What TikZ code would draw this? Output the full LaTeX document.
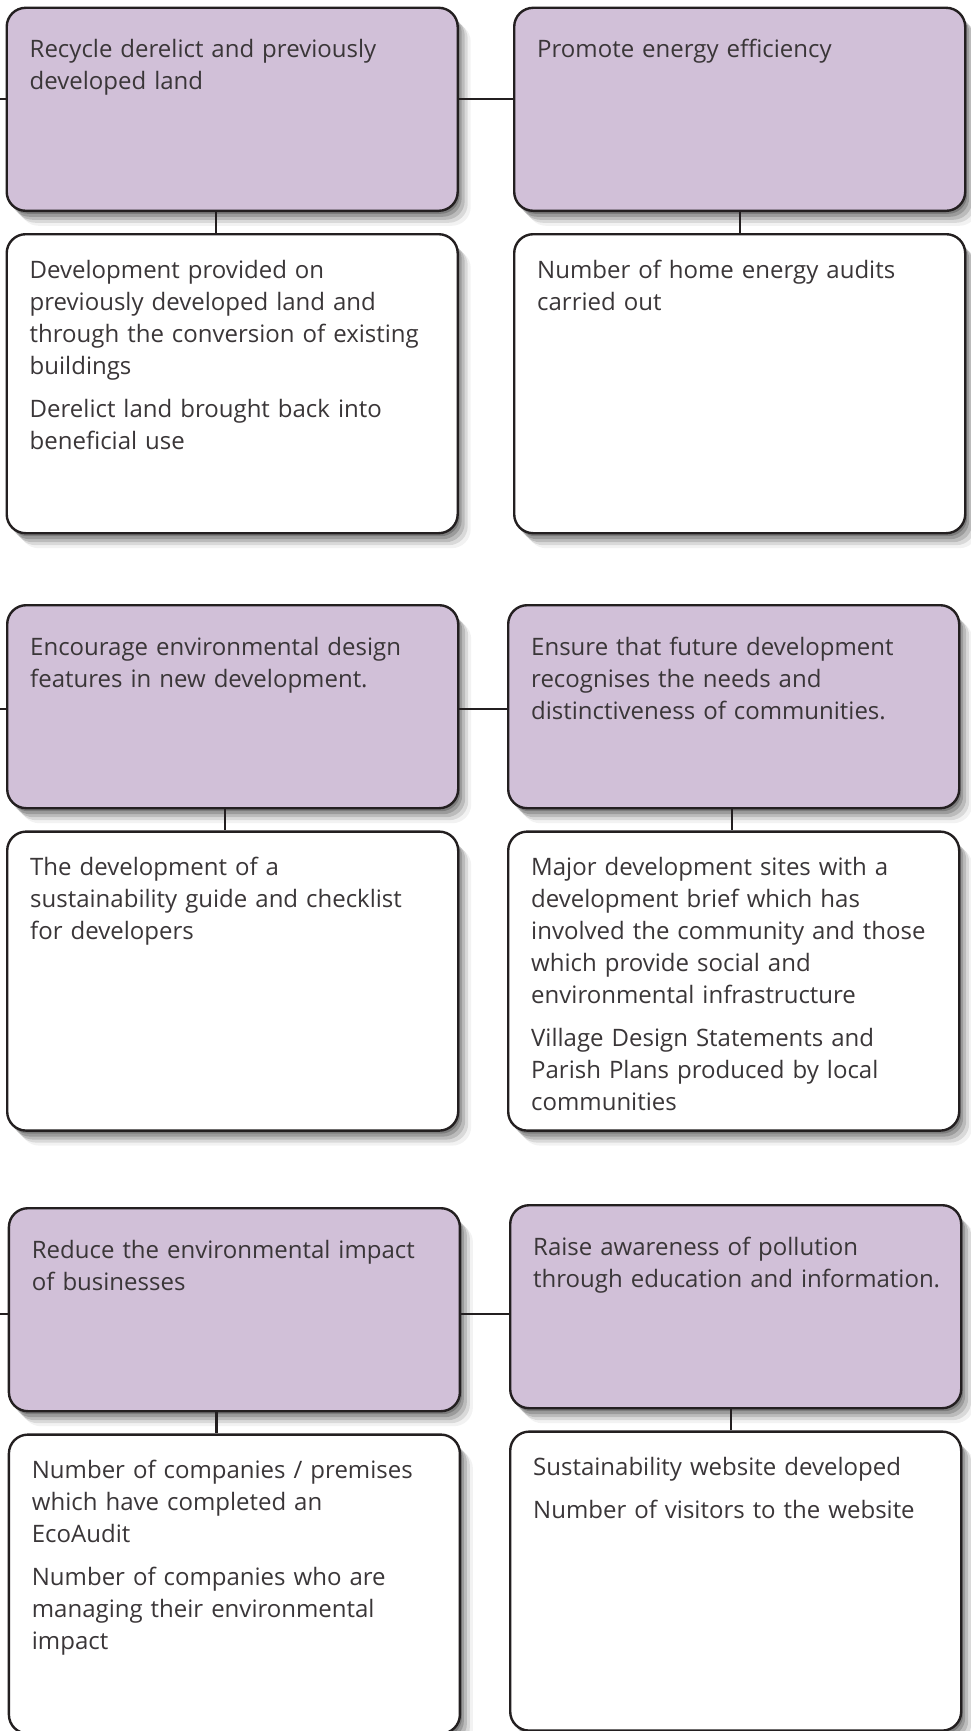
\documentclass[tikz,border=0pt]{standalone}
\usepackage{fontspec}
\setmainfont{Open Sans}
\usepackage{tikz}
\usetikzlibrary{positioning}
\usetikzlibrary{shadows}

\definecolor{lilac}{RGB}{209,192,216}
\definecolor{edge}{RGB}{35,31,32}
\definecolor{ink}{RGB}{58,54,56}

\begin{document}
\begin{tikzpicture}
 [ x=1pt
 , y=-1pt
 , node distance=21pt
 , panel/.style={draw=edge, line width=2.4pt, rounded corners=19pt, minimum width=451pt, inner sep=0pt, anchor=north west,
     drop shadow={shadow xshift=2pt, shadow yshift=-3pt, opacity=.2, fill=black},
     drop shadow={shadow xshift=4pt, shadow yshift=-6pt, opacity=.17, fill=black},
     drop shadow={shadow xshift=7pt, shadow yshift=-9pt, opacity=.14, fill=black},
     drop shadow={shadow xshift=10pt, shadow yshift=-12pt, opacity=.1, fill=black},
     drop shadow={shadow xshift=13pt, shadow yshift=-15pt, opacity=.05, fill=black}}
 , objective/.style={panel, fill=lilac, minimum height=203pt}
 , indicator/.style={panel, fill=white, minimum height=299pt}
 , caption/.style={anchor=base west, inner sep=0pt, text width=440pt, align=left, text=ink,
     font=\fontsize{24}{32}\selectfont}
 , aimtext/.style={caption, at={([shift={(24pt,-51pt)}]#1.north west)}}
 , indtext/.style={caption, at={([shift={(24pt,-45pt)}]#1.north west)}}
 , link/.style={draw=edge, line width=2.4pt}
 ]
  \useasboundingbox (0,0) rectangle (970,1731);

  % first row
  \node[objective] (aim1) at (5.5,6.6) {};
  \node[objective] (aim2) at (513,6.6) {};
  \node[indicator, below=of aim1] (ind1) {};
  \node[indicator, below=of aim2] (ind2) {};

  % second row
  \node[objective] (aim3) at (6,604) {};
  \node[objective] (aim4) at (507,604) {};
  \node[indicator, below=of aim3] (ind3) {};
  \node[indicator, below=of aim4] (ind4) {};

  % third row
  \node[objective] (aim5) at (7.7,1207) {};
  \node[objective] (aim6) at (509,1204) {};
  \node[indicator, below=of aim5] (ind5) {};
  \node[indicator, below=of aim6] (ind6) {};

  \node[aimtext=aim1] (aim1txt) {Recycle derelict and previously\\ developed land};
  \node[aimtext=aim2] (aim2txt) {Promote energy efficiency};
  \node[indtext=ind1] (ind1txt) {Development provided on\\ previously developed land and\\
    through the conversion of existing\\ buildings\\[11pt]
    Derelict land brought back into\\ beneficial use};
  \node[indtext=ind2] (ind2txt) {Number of home energy audits\\ carried out};

  \node[aimtext=aim3] (aim3txt) {Encourage environmental design\\ features in new development.};
  \node[aimtext=aim4] (aim4txt) {Ensure that future development\\ recognises the needs and\\
    distinctiveness of communities.};
  \node[indtext=ind3] (ind3txt) {The development of a\\ sustainability guide and checklist\\ for developers};
  \node[indtext=ind4] (ind4txt) {Major development sites with a\\ development brief which has\\
    involved the community and those\\ which provide social and\\
    environmental infrastructure\\[11pt]
    Village Design Statements and\\ Parish Plans produced by local\\ communities};

  \node[aimtext=aim5] (aim5txt) {Reduce the environmental impact\\ of businesses};
  \node[aimtext=aim6] (aim6txt) {Raise awareness of pollution\\ through education and information.};
  \node[indtext=ind5] (ind5txt) {Number of companies / premises\\ which have completed an\\ EcoAudit\\[11pt]
    Number of companies who are\\ managing their environmental\\ impact};
  \node[indtext=ind6] (ind6txt) {Sustainability website developed\\[11pt]
    Number of visitors to the website};

  % links between the boxes
  \coordinate (stub1) at ([yshift=10pt]aim1.west -| 0,0);
  \coordinate (stub3) at ([yshift=-2.5pt]aim3.west -| 0,0);
  \coordinate (stub5) at ([yshift=-4.5pt]aim5.west -| 0,0);
  \draw[link] (stub1) -- (stub1 -| aim1.west);
  \draw[link] (stub3) -- (stub3 -| aim3.west);
  \draw[link] (stub5) -- (stub5 -| aim5.west);
  \draw[link] ([yshift=10pt]aim1.east) -- ([yshift=10pt]aim1.east -| aim2.west);
  \draw[link] ([yshift=-2.5pt]aim3.east) -- ([yshift=-2.5pt]aim3.east -| aim4.west);
  \draw[link] ([yshift=-4.5pt]aim5.east) -- ([yshift=-4.5pt]aim5.east -| aim6.west);
  \draw[link] ([xshift=-16pt]aim1.south) -- ([xshift=-16pt]aim1.south |- ind1.north);
  \draw[link] (aim2.south) -- (ind2.north);
  \draw[link] ([xshift=-8pt]aim3.south) -- ([xshift=-8pt]aim3.south |- ind3.north);
  \draw[link] ([xshift=-2pt]aim4.south) -- ([xshift=-2pt]aim4.south |- ind4.north);
  \draw[link] ([xshift=-18pt]aim5.south) -- ([xshift=-18pt]aim5.south |- ind5.north);
  \draw[link] ([xshift=-5pt]aim6.south) -- ([xshift=-5pt]aim6.south |- ind6.north);
\end{tikzpicture}
\end{document}
